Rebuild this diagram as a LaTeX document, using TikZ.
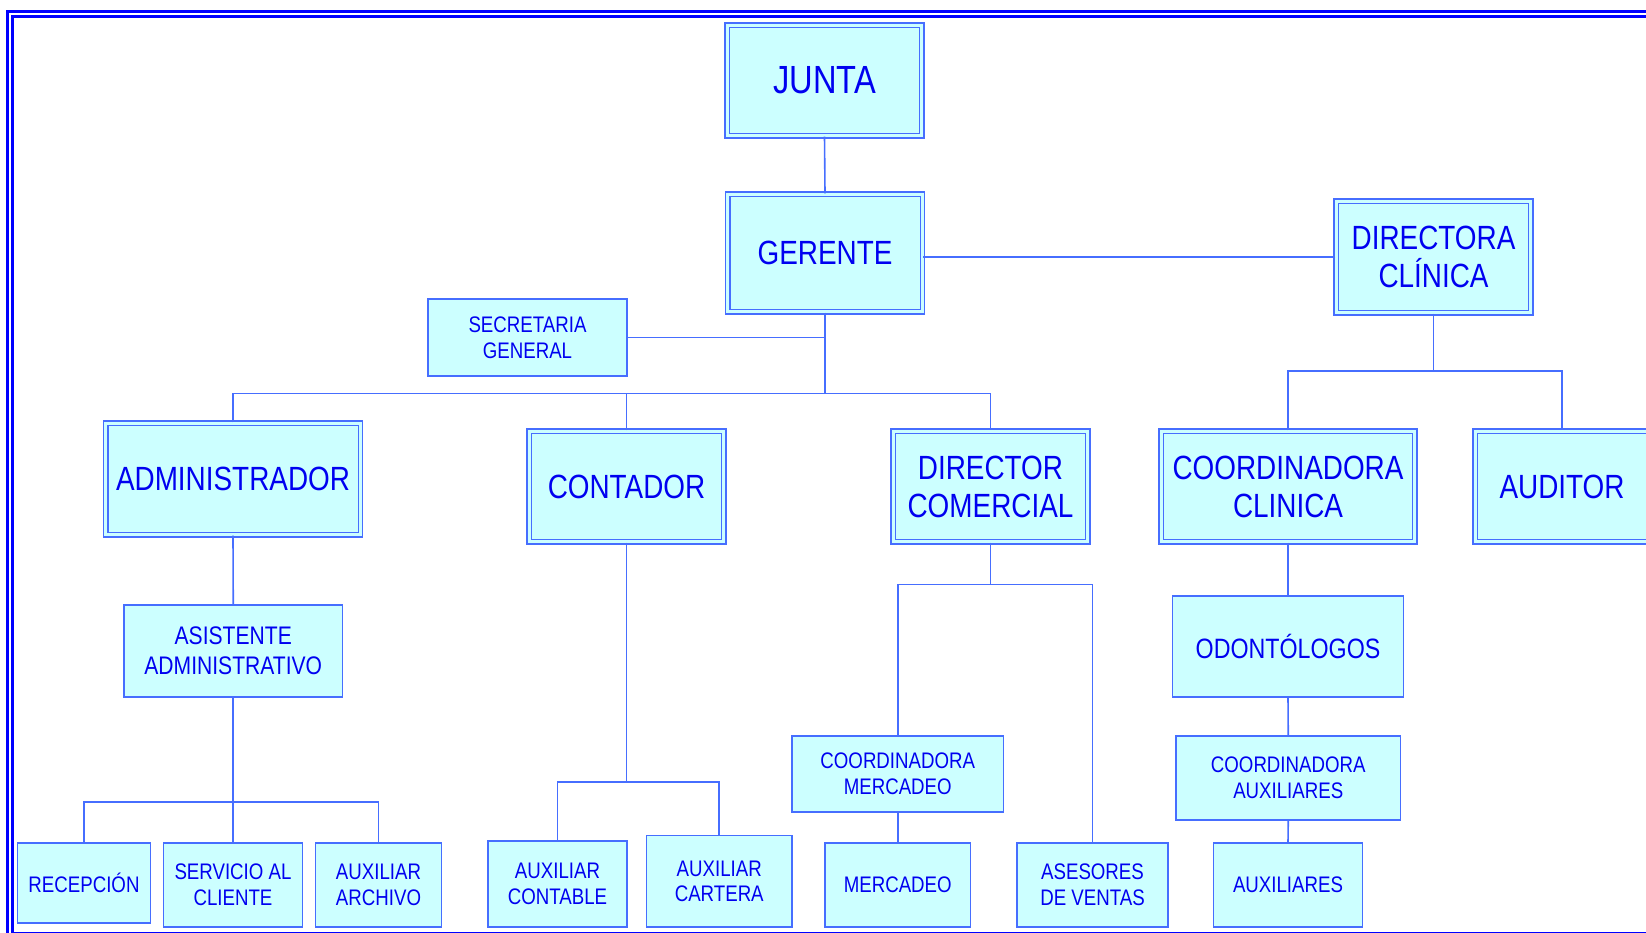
\documentclass[tikz,border=0pt]{standalone}
\usepackage{fontspec}
\setmainfont{Liberation Sans}[FakeStretch=0.83]
\definecolor{linecol}{RGB}{70,110,255}
\definecolor{textblue}{RGB}{0,0,240}
\definecolor{fillcol}{RGB}{204,255,255}
\definecolor{framecol}{RGB}{0,0,255}
\tikzset{
  dbox/.style={draw=linecol, line width=1.4pt, double=fillcol, double distance=2.9pt,
    fill=fillcol, text=textblue, align=center, inner sep=0pt,
    font=\fontsize{33.6}{38}\selectfont},
  sbox/.style={draw=linecol, line width=1.6pt, fill=fillcol, text=textblue,
    align=center, inner sep=0pt, font=\fontsize{22.5}{25.6}\selectfont},
  conn/.style={draw=linecol, line width=1.6pt},
  frameline/.style={draw=framecol, line width=2.8pt}
}
\begin{document}
\begin{tikzpicture}[x=1pt,y=-1pt]
\useasboundingbox (0,0) rectangle (1646,933);
\clip (0,0) rectangle (1646,933);
% frame
\draw[frameline] (7.2,11.5) rectangle (1700,1000);
\draw[frameline, line width=3.2pt] (12.2,16.8) rectangle (1690,933.6);

% double boxes
\node[dbox, minimum width=194.7, minimum height=110.7, font=\fontsize{39.3}{44}\selectfont] (junta) at (824.5,80.5) {JUNTA};
\node[dbox, minimum width=194.7, minimum height=117.7] (gerente) at (825,253) {GERENTE};
\node[dbox, minimum width=194.7, minimum height=111.7] (dirc) at (1433.5,257) {DIRECTORA\\CLÍNICA};
\node[dbox, minimum width=254.7, minimum height=111.7] (admin) at (233,479) {ADMINISTRADOR};
\node[dbox, minimum width=194.7, minimum height=110.7] (contador) at (626.5,486.5) {CONTADOR};
\node[dbox, minimum width=194.7, minimum height=110.7] (dircom) at (990.5,486.5) {DIRECTOR\\COMERCIAL};
\node[dbox, minimum width=253.7, minimum height=110.7] (coordc) at (1288,486.5) {COORDINADORA\\CLINICA};
\node[dbox, minimum width=173.7, minimum height=110.7] (auditor) at (1562,486.5) {AUDITOR};

% single boxes
\node[sbox, minimum width=199, minimum height=77] (sec) at (527.5,337.5) {SECRETARIA\\GENERAL};
\node[sbox, minimum width=218.5, minimum height=92, font=\fontsize{25.4}{30}\selectfont] (asist) at (233.25,651) {ASISTENTE\\ADMINISTRATIVO};
\node[sbox, minimum width=133, minimum height=80] (recep) at (84,883) {RECEPCIÓN};
\node[sbox, minimum width=139, minimum height=84] (serv) at (233,885) {SERVICIO AL\\CLIENTE};
\node[sbox, minimum width=126, minimum height=84] (archivo) at (378.5,885) {AUXILIAR\\ARCHIVO};
\node[sbox, minimum width=139, minimum height=86] (auxcont) at (557.5,884) {AUXILIAR\\CONTABLE};
\node[sbox, minimum width=145.5, minimum height=91.5] (cartera) at (719.25,881.25) {AUXILIAR\\CARTERA};
\node[sbox, minimum width=211.5, minimum height=76] (coordm) at (897.75,774) {COORDINADORA\\MERCADEO};
\node[sbox, minimum width=145.5, minimum height=84] (mercadeo) at (897.75,885) {MERCADEO};
\node[sbox, minimum width=151, minimum height=84] (asesores) at (1092.5,885) {ASESORES\\DE VENTAS};
\node[sbox, minimum width=231, minimum height=101, font=\fontsize{28}{32}\selectfont] (odont) at (1288,646.5) {ODONTÓLOGOS};
\node[sbox, minimum width=224.5, minimum height=84] (coorda) at (1288.25,778) {COORDINADORA\\AUXILIARES};
\node[sbox, minimum width=149, minimum height=84] (auxil) at (1288,885) {AUXILIARES};

% bus coordinates
\coordinate (busA) at (0,393.3);
\coordinate (busB) at (0,370.7);
\coordinate (busC) at (0,802);
\coordinate (busD) at (0,781.7);
\coordinate (busE) at (0,584.5);

% connectors
\draw[conn] (junta.south) -- (gerente.north);
\draw[conn] (dirc.west) -- (dirc.west -| gerente.east);
\draw[conn] (gerente.south) -- (gerente.south |- busA);
\draw[conn] (sec.east) -- (sec.east -| gerente.south);
\draw[conn] (admin.north) -- (admin.north |- busA) -- (dircom.north |- busA) -- (dircom.north);
\draw[conn] (contador.north) -- (contador.north |- busA);

\draw[conn] (dirc.south) -- (dirc.south |- busB);
\draw[conn] (coordc.north) -- (coordc.north |- busB) -- (auditor.north |- busB) -- (auditor.north);

\draw[conn] (admin.south) -- (asist.north);
\draw[conn] (asist.south) -- (asist.south |- busC);
\draw[conn] (recep.north) -- (recep.north |- busC) -- (archivo.north |- busC) -- (archivo.north);
\draw[conn] (serv.north) -- (serv.north |- busC);

\draw[conn] (contador.south) -- (contador.south |- busD);
\draw[conn] (auxcont.north) -- (auxcont.north |- busD) -- (cartera.north |- busD) -- (cartera.north);

\draw[conn] (dircom.south) -- (dircom.south |- busE);
\draw[conn] (coordm.north) -- (coordm.north |- busE) -- (asesores.north |- busE) -- (asesores.north);
\draw[conn] (coordm.south) -- (mercadeo.north);

\draw[conn] (coordc.south) -- (odont.north);
\draw[conn] (odont.south) -- (coorda.north);
\draw[conn] (coorda.south) -- (auxil.north);
\end{tikzpicture}
\end{document}
